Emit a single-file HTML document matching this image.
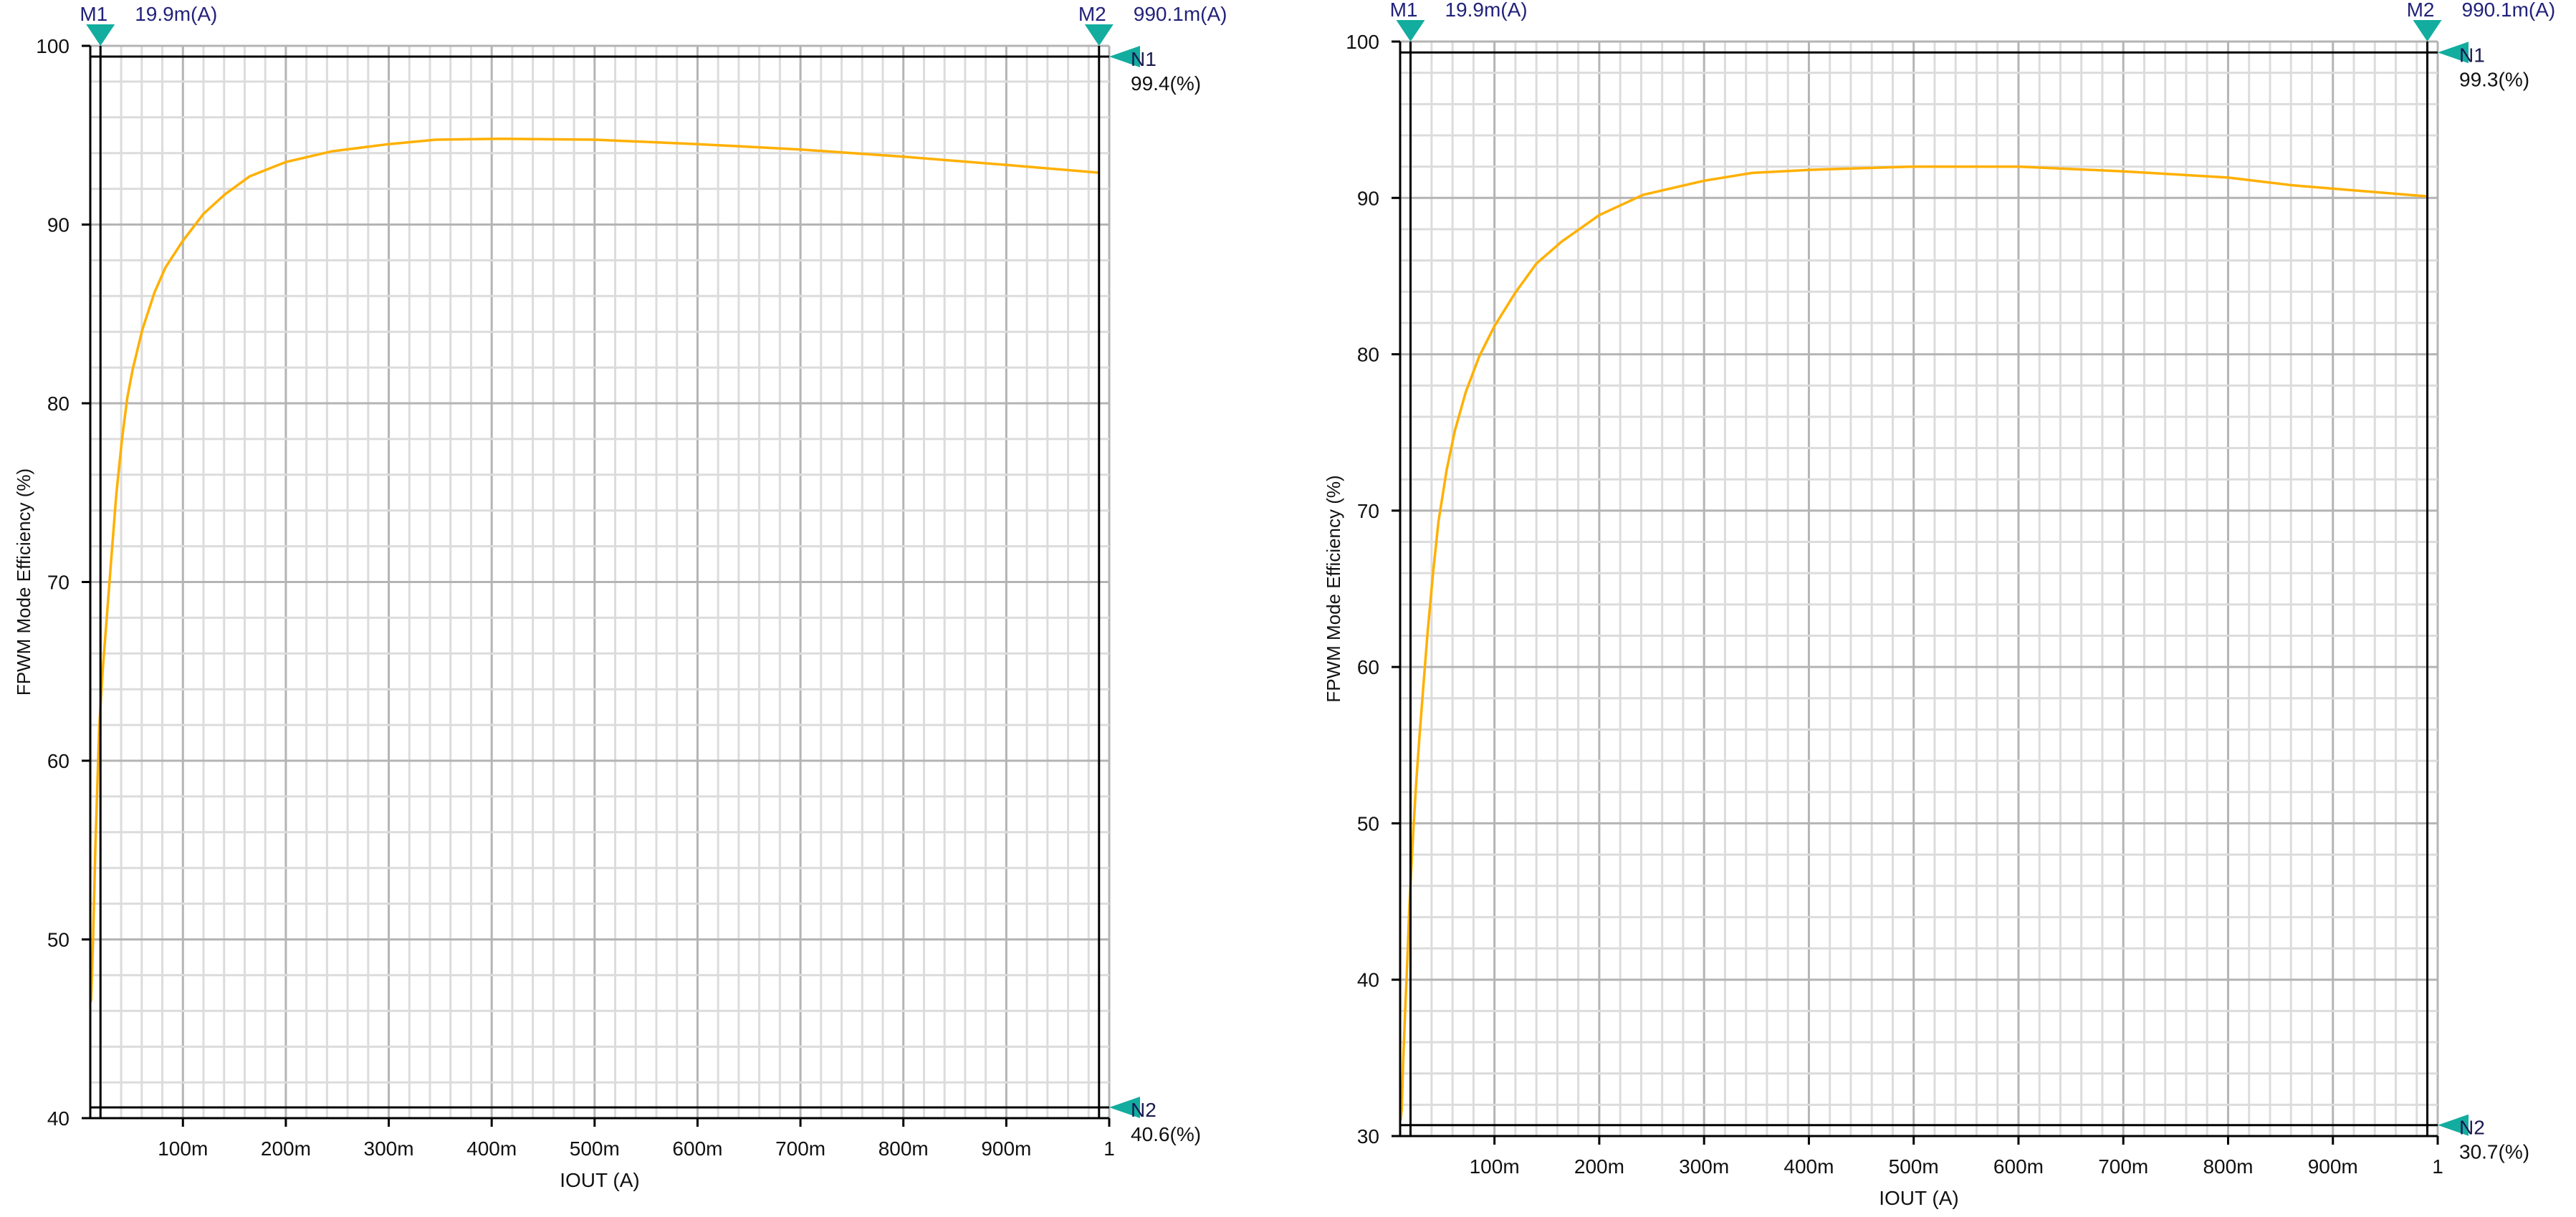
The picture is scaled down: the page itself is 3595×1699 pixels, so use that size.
<!DOCTYPE html>
<html><head><meta charset="utf-8"><style>
html,body{margin:0;padding:0;background:#fff;}
svg{display:block;font-family:"Liberation Sans",sans-serif;}
</style></head><body>
<svg id="chart" width="3595" height="1699" viewBox="0 0 3595 1699" xmlns="http://www.w3.org/2000/svg"></svg>
<script>
const xTickValues = [0.1,0.2,0.3,0.4,0.5,0.6,0.7,0.8,0.9,1.0];
const xTickLabels = ["100m","200m","300m","400m","500m","600m","700m","800m","900m","1"];
const leftYTicks = [40,50,60,70,80,90,100];
const rightYTicks = [30,40,50,60,70,80,90,100];
const leftIout = [0.0105,0.0109,0.0127,0.0149,0.0167,0.0186,0.022,0.026,0.030,0.0353,0.0406,0.0459,0.0512,0.0605,0.0724,0.083,0.1,0.12,0.141,0.165,0.2,0.245,0.3,0.346,0.409,0.5,0.6,0.7,0.8,0.897,0.99];
const leftEff = [46.5,46.7,50.0,55.0,58.3,61.8,65.0,68.0,71.0,74.9,77.9,80.3,81.9,84.1,86.2,87.6,89.1,90.6,91.7,92.7,93.5,94.1,94.5,94.75,94.8,94.75,94.5,94.2,93.8,93.35,92.9];
const rightIout = [0.0105,0.0115,0.0128,0.0148,0.0169,0.0188,0.0227,0.0253,0.0284,0.0323,0.0362,0.0414,0.0466,0.0544,0.0622,0.0727,0.0857,0.1,0.1195,0.14,0.164,0.2,0.242,0.3,0.346,0.403,0.5,0.6,0.7,0.8,0.862,0.99];
const rightEff = [31.0,31.7,34.6,38.0,41.3,44.7,49.7,52.6,55.5,58.9,62.2,66.0,69.3,72.6,75.1,77.6,79.9,81.8,83.9,85.8,87.2,88.9,90.2,91.1,91.6,91.8,92.0,92.0,91.7,91.3,90.8,90.1];
const markerX = [0.0199, 0.9901];
const markerXLabels = ["19.9m(A)", "990.1m(A)"];
const leftMarkerY = [99.4, 40.6];
const rightMarkerY = [99.3, 30.7];

const NS = "http://www.w3.org/2000/svg";
const svg = document.getElementById("chart");
function mk(tag, attrs, parent){
  const e = document.createElementNS(NS, tag);
  for (const k in attrs) e.setAttribute(k, attrs[k]);
  (parent||svg).appendChild(e);
  return e;
}

function drawPlot(cfg){
  const g = mk("g", {});
  
  
  const xs = v => cfg.x0 + (v - 0.01) / 0.99 * (cfg.x1 - cfg.x0);
  const ys = v => cfg.y1 - (v - cfg.ymin) / (cfg.ymax - cfg.ymin) * (cfg.y1 - cfg.y0);
  // minor vertical grid (every 20m)
  for (let k = 1; k <= 50; k++) {
    const v = k * 0.02;
    if (v < 0.01) continue;
    const major = (k % 5 === 0);
    const ln = mk("line", {x1: xs(v), x2: xs(v), y1: cfg.y0, y2: cfg.y1, stroke: major ? "#b4b4b4" : "#dcdcdc", "stroke-width": 3}, g);
    
    
  }
  // horizontal grid every 2%
  for (let v = cfg.ymin + 2; v <= cfg.ymax + 0.01; v += 2) {
    const major = (Math.round(v) % 10 === 0);
    const ln = mk("line", {x1: cfg.x0, x2: cfg.x1, y1: ys(v), y2: ys(v), stroke: major ? "#b4b4b4" : "#dcdcdc", "stroke-width": 3}, g);
    
    
  }
  // curve
  let d = "";
  cfg.iout.forEach((v, i) => { d += (i ? "L" : "M") + xs(v).toFixed(1) + " " + ys(cfg.eff[i]).toFixed(1); });
  const curve = mk("path", {d: d, fill: "none", stroke: "#ffb000", "stroke-width": 3.5, "stroke-linejoin": "round"}, g);
  
  
  // axes
  const ya = mk("line", {x1: cfg.x0, x2: cfg.x0, y1: cfg.y0, y2: cfg.y1, stroke: "#000", "stroke-width": 3}, g);
  
  
  const xa = mk("line", {x1: cfg.x0 - 12, x2: cfg.x1, y1: cfg.y1, y2: cfg.y1, stroke: "#000", "stroke-width": 3}, g);
  
  
  cfg.yTicks.forEach(v => {
    const t = mk("line", {x1: cfg.x0 - 12, x2: cfg.x0, y1: ys(v), y2: ys(v), stroke: "#000", "stroke-width": 3}, g);
    
    
    const tx = mk("text", {x: cfg.x0 - 29, y: ys(v) + 10, "text-anchor": "end", "font-size": 28, fill: "#111"}, g);
    tx.textContent = v;
    
    
  });
  xTickValues.forEach((v, i) => {
    const t = mk("line", {x1: xs(v), x2: xs(v), y1: cfg.y1, y2: cfg.y1 + 12, stroke: "#000", "stroke-width": 3}, g);
    
    
    const tx = mk("text", {x: xs(v), y: cfg.y1 + 52, "text-anchor": "middle", "font-size": 28, fill: "#111"}, g);
    tx.textContent = xTickLabels[i];
    
    
  });
  // titles
  const xt = mk("text", {x: (cfg.x0 + cfg.x1) / 2, y: cfg.y1 + 96, "text-anchor": "middle", "font-size": 28, fill: "#111"}, g);
  xt.textContent = "IOUT  (A)";
  
  
  const yc = (cfg.y0 + cfg.y1) / 2, yx = cfg.x0 - 84;
  const yt = mk("text", {x: yx, y: yc, "text-anchor": "middle", "font-size": 26, fill: "#111", transform: `rotate(-90 ${yx} ${yc})`}, g);
  yt.textContent = "FPWM Mode Efficiency  (%)";
  
  
  // vertical markers
  markerX.forEach((v, i) => {
    const X = xs(v);
    const ln = mk("line", {x1: X, x2: X, y1: cfg.y0, y2: cfg.y1, stroke: "#000", "stroke-width": 3}, g);
    
    
    const tri = mk("polygon", {points: `${X - 20},${cfg.y0 - 30} ${X + 20},${cfg.y0 - 30} ${X},${cfg.y0}`, fill: "#12ad9f"}, g);
    
    
    const lb = mk("text", {x: X + 10, y: cfg.y0 - 35, "text-anchor": "end", "font-size": 28, fill: "#22227a"}, g);
    lb.textContent = "M" + (i + 1);
    
    
    const vl = mk("text", {x: X + 48, y: cfg.y0 - 35, "font-size": 28, fill: "#22227a"}, g);
    vl.textContent = markerXLabels[i];
    
    
  });
  // horizontal markers
  cfg.markY.forEach((v, i) => {
    const Y = ys(v);
    const ln = mk("line", {x1: cfg.x0, x2: cfg.x1, y1: Y, y2: Y, stroke: "#000", "stroke-width": 3}, g);
    
    
    const tri = mk("polygon", {points: `${cfg.x1},${Y} ${cfg.x1 + 43},${Y - 15} ${cfg.x1 + 43},${Y + 15}`, fill: "#12ad9f"}, g);
    
    
    const lb = mk("text", {x: cfg.x1 + 30, y: Y + 13, "font-size": 28, fill: "#1a1a50"}, g);
    lb.textContent = "N" + (i + 1);
    
    
    const vl = mk("text", {x: cfg.x1 + 30, y: Y + 47, "font-size": 28, fill: "#111"}, g);
    vl.textContent = v.toFixed(1) + "(%)";
    
    
  });
}

drawPlot({name: "left-efficiency-plot", x0: 126, x1: 1548, y0: 64, y1: 1561, ymin: 40, ymax: 100, yTicks: leftYTicks, iout: leftIout, eff: leftEff, markY: leftMarkerY});
drawPlot({name: "right-efficiency-plot", x0: 1954, x1: 3402, y0: 58, y1: 1586, ymin: 30, ymax: 100, yTicks: rightYTicks, iout: rightIout, eff: rightEff, markY: rightMarkerY});
</script>
</body></html>
